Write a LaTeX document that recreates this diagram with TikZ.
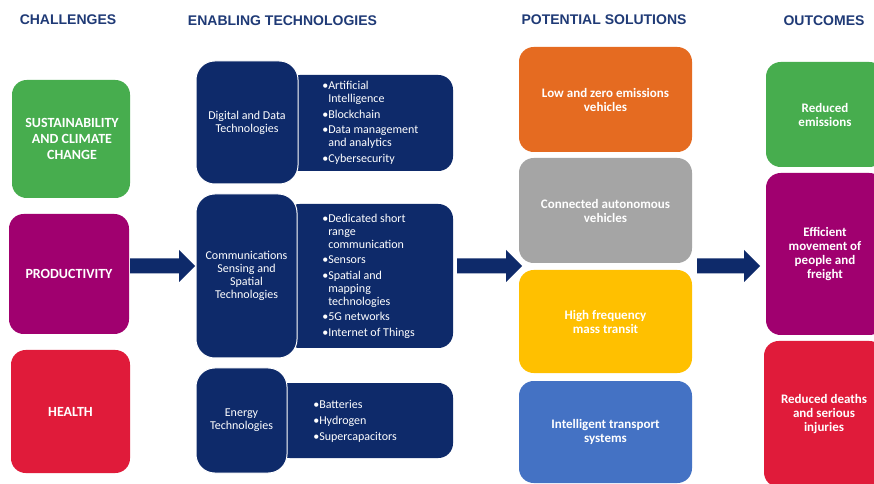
\documentclass[tikz,border=0pt]{standalone}
\usepackage{fontspec}
\setmainfont{Carlito}
\newfontfamily\headfont{Liberation Sans}
\usetikzlibrary{fit,calc}

\definecolor{navy}{HTML}{0E2A6A}
\definecolor{headblue}{HTML}{1F3A76}
\definecolor{cgreen}{HTML}{47AD4E}
\definecolor{cpurple}{HTML}{A0006F}
\definecolor{cred}{HTML}{E01B3A}
\definecolor{sorange}{HTML}{E56B21}
\definecolor{sgray}{HTML}{A5A5A5}
\definecolor{syellow}{HTML}{FFC000}
\definecolor{sblue}{HTML}{4472C4}

% bullet and hanging indent for the technology lists
\newcommand\listbul{\makebox[4.5pt][l]{\textbullet}}
\newcommand\listind{\hspace*{4.5pt}}

% block arrow from one named coordinate to another
\newcommand\flowarrow[2]{%
  \fill[flowfill] ($(#1)+(0,-7.5)$) -- ($(#2)+(-16,-7.5)$) -- ($(#2)+(-16,-16)$)
    -- (#2) -- ($(#2)+(-16,16)$) -- ($(#2)+(-16,7.5)$) -- ($(#1)+(0,7.5)$) -- cycle;}

\tikzset{
  tile/.style={rectangle, rounded corners=11pt, inner sep=0pt},
  tiletext/.style={align=center, inner sep=0pt, text=white,
    font=\fontsize{9.75}{10.5}\selectfont\bfseries},
  challtext/.style={tiletext, font=\fontsize{10.5}{12}\selectfont\bfseries},
  techhead/.style={rectangle, rounded corners=14pt, fill=navy, draw=white,
    line width=0.75pt, inner sep=0pt},
  techtext/.style={align=center, inner sep=0pt, text=white,
    font=\fontsize{9}{9.75}\selectfont},
  techlist/.style={rectangle, rounded corners=11pt, fill=navy, inner sep=0pt},
  listtext/.style={anchor=west, align=left, text=white, inner sep=0pt,
    font=\fontsize{9}{9.75}\selectfont},
  heading/.style={font=\headfont\bfseries\fontsize{10.5}{12}\selectfont,
    text=headblue, inner sep=0pt},
  flowfill/.style={fill=navy}
}

\begin{document}
\begin{tikzpicture}[x=0.75pt, y=-0.75pt]
\path[use as bounding box, clip] (0,0) rectangle (874,484);
\fill[white] (0,0) rectangle (874,484);

% column headings
\node[heading] (hchal) at (68,19.5) {CHALLENGES};
\node[heading] (htech) at (282.5,20.5) {ENABLING TECHNOLOGIES};
\node[heading] (hsol)  at (604,19.5) {POTENTIAL SOLUTIONS};
\node[heading] (hout)  at (824,20.5) {OUTCOMES};

% challenges
\node[tile, fill=cgreen, fit={(12,80) (130,198)}] (sus) {};
\node[tile, fill=cpurple, fit={(9,214) (129,334)}] (prod) {};
\node[tile, fill=cred, fit={(11,350) (130,473)}] (health) {};
\node[challtext] (sus-t) at ([xshift=0.75pt]sus.center)
  {SUSTAINABILITY\\AND CLIMATE\\CHANGE};
\node[challtext] (prod-t) at (prod.center) {PRODUCTIVITY};
\node[challtext] (health-t) at (health.center) {HEALTH};

% enabling technologies: list panels first, headers on top
\node[techlist, fit={(285,75) (453,171)}] (diglist) {};
\node[techlist, fit={(285,204) (453,348)}] (comlist) {};
\node[techlist, fit={(275,383) (453,458)}] (enelist) {};

\node[techhead, fit={(196,61) (298,184)}] (digital) {};
\node[techhead, fit={(196,194) (297,358)}] (comms) {};
\node[techhead, fit={(196,368) (287,473)}] (energy) {};
\node[techtext] (digital-t) at (digital.center) {Digital and Data\\Technologies};
\node[techtext] (comms-t) at (comms.center)
  {Communications\\Sensing and\\Spatial\\Technologies};
\node[techtext] (energy-t) at (energy.center) {Energy\\Technologies};

\node[listtext] (digitems) at (322,123) {%
  \listbul Artificial\\ \listind Intelligence\\[1.9pt]
  \listbul Blockchain\\[1.9pt]
  \listbul Data management\\ \listind and analytics\\[1.9pt]
  \listbul Cybersecurity};
\node[listtext] (comitems) at (322,276) {%
  \listbul Dedicated short\\ \listind range\\ \listind communication\\[1.9pt]
  \listbul Sensors\\[1.9pt]
  \listbul Spatial and\\ \listind mapping\\ \listind technologies\\[1.9pt]
  \listbul 5G networks\\[1.9pt]
  \listbul Internet of Things};
\node[listtext] (eneitems) at (313,421) {%
  \listbul Batteries\\[2.25pt]
  \listbul Hydrogen\\[2.25pt]
  \listbul Supercapacitors};

% potential solutions
\node[tile, fill=sorange, fit={(519,47) (692,152)}] (lowem) {};
\node[tile, fill=sgray, fit={(519,158) (692,263)}] (cav) {};
\node[tile, fill=syellow, fit={(519,270) (692,373)}] (transit) {};
\node[tile, fill=sblue, fit={(519,381) (692,483)}] (its) {};
\node[tiletext] (lowem-t) at (lowem.center) {Low and zero emissions\\vehicles};
\node[tiletext] (cav-t) at (cav.center) {Connected autonomous\\vehicles};
\node[tiletext] (transit-t) at (transit.center) {High frequency\\mass transit};
\node[tiletext] (its-t) at (its.center) {Intelligent transport\\systems};

% outcomes
\node[tile, fill=cgreen, fit={(766,62) (884,167)}] (redem) {};
\node[tile, fill=cpurple, fit={(766,173) (884,335)}] (effic) {};
\node[tile, fill=cred, fit={(764,341) (884,487)}] (safety) {};
\node[tiletext] (redem-t) at (redem.center) {Reduced\\emissions};
\node[tiletext] (effic-t) at (effic.center)
  {Efficient\\movement of\\people and\\freight};
\node[tiletext] (safety-t) at (safety.center)
  {Reduced deaths\\and serious\\injuries};

% flow arrows between the columns
\coordinate (a1s) at (130,266); \coordinate (a1e) at (195,266);
\coordinate (a2s) at (457,266); \coordinate (a2e) at (522,266);
\coordinate (a3s) at (697,266); \coordinate (a3e) at (760,266);
\flowarrow{a1s}{a1e}
\flowarrow{a2s}{a2e}
\flowarrow{a3s}{a3e}
\end{tikzpicture}
\end{document}
